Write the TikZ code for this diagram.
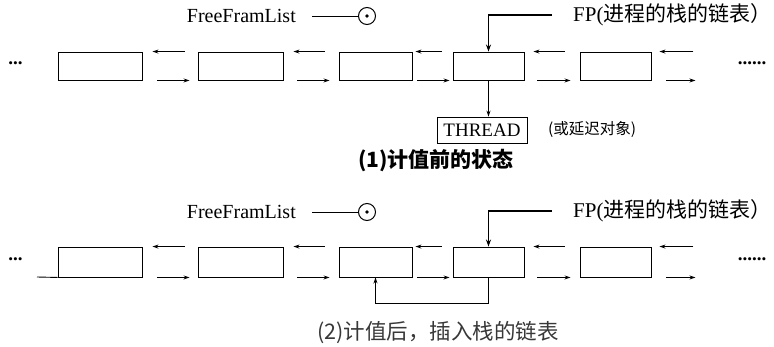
\documentclass[tikz,border=0pt]{standalone}
\usepackage{fontspec}
\setmainfont{Liberation Serif}
\newfontfamily\cjk{Noto Sans CJK SC}
\usetikzlibrary{arrows.meta,calc}
\begin{document}
\begin{tikzpicture}[x=1pt,y=-1pt,
  listbox/.style={draw,line width=0.9pt,inner sep=0pt},
  arr/.style={line width=0.9pt,-{Stealth[length=6pt,width=4pt]}},
  thinline/.style={line width=0.9pt},
  lbl/.style={font=\fontsize{20}{22}\selectfont,inner sep=0pt},
  fplbl/.style={font=\fontsize{21}{23}\selectfont,inner sep=0pt},
  dotlbl/.style={font=\fontsize{19}{21}\selectfont\bfseries,inner sep=0pt},
  captext/.style={font=\fontsize{21.5}{23}\selectfont\cjk,inner sep=0pt},
  ringnode/.style={circle,draw,line width=1pt,minimum size=17pt,inner sep=0pt}]
\useasboundingbox (0,0) rectangle (774,346);

\foreach \p/\y/\h in {a/66/28, b/262/30} {
  % boxes
  \node[listbox,minimum width=84pt,minimum height=\h pt] (\p1) at (100,\y) {};
  \node[listbox,minimum width=85pt,minimum height=\h pt] (\p2) at (240.5,\y) {};
  \node[listbox,minimum width=73pt,minimum height=\h pt] (\p3) at (375.5,\y) {};
  \node[listbox,minimum width=71pt,minimum height=\h pt] (\p4) at (488.5,\y) {};
  \node[listbox,minimum width=71pt,minimum height=\h pt] (\p5) at (615.5,\y) {};
  % dots
  \node[dotlbl] (\p L) at (15.5,\y-3) {...};
  \node[dotlbl] (\p R) at (752,\y-3) {......};
  % links
  \draw[arr] ([xshift=-13pt]\p2.north west) -- ([xshift=10pt]\p1.north east);
  \draw[arr] ([xshift=15pt]\p1.south east) -- ([xshift=-8pt]\p2.south west);
  \draw[arr] ([xshift=-14pt]\p3.north west) -- ([xshift=10pt]\p2.north east);
  \draw[arr] ([xshift=14pt]\p2.south east) -- ([xshift=-9pt]\p3.south west);
  \draw[arr] ([xshift=-11pt]\p4.north west) -- ([xshift=3pt]\p3.north east);
  \draw[arr] ([xshift=5pt]\p3.south east) -- ([xshift=-3pt]\p4.south west);
  \draw[arr] ([xshift=-15pt]\p5.north west) -- ([xshift=9pt]\p4.north east);
  \draw[arr] ([xshift=13pt]\p4.south east) -- ([xshift=-9pt]\p5.south west);
  \draw[arr] ([xshift=42pt]\p5.north east) -- ([xshift=8pt]\p5.north east);
  \draw[arr] ([xshift=15pt]\p5.south east) -- ([xshift=44pt]\p5.south east);
  % FreeFramList
  \node[lbl,anchor=east] (\p F) at (296,\y-50) {FreeFramList};
  \node[ringnode] (\p C) at (367,\y-50) {};
  \fill (\p C.center) circle (1.8pt);
  \draw[thinline] ([xshift=16pt]\p F.east) -- (\p C.west);
  % FP
  \node[fplbl,anchor=west] (\p P) at (573,\y-51) {FP({\cjk 进程的栈的链表）}};
  \draw[line width=1.4pt,-{Stealth[length=7pt,width=5pt]}] ([xshift=-21pt]\p P.west) -| (\p4.north);
}

% panel 1 extras
\node[draw,line width=0.9pt,minimum width=90pt,minimum height=26pt,inner sep=0pt,
      font=\fontsize{19}{21}\selectfont] (T) at (482,130) {THREAD};
\draw[arr] (a4.south) -- (a4.south |- T.north);
\node[anchor=west,inner sep=0pt,font=\fontsize{15.5}{18}\selectfont\cjk] (D) at (548,129) {(或延迟对象)};
\node[captext,font=\fontsize{21}{23}\selectfont\cjk\bfseries] (C1) at (436,161) {(1)计值前的状态};

% panel 2 extras
\coordinate (bL0) at (37,277);
\draw[thinline] (bL0) -- (b1.south west);
\draw[arr] (b4.south) -- ++(0,26) -| (b3.south);
\node[captext,text=black!78] (C2) at (438,333) {(2)计值后，插入栈的链表};
\end{tikzpicture}
\end{document}
